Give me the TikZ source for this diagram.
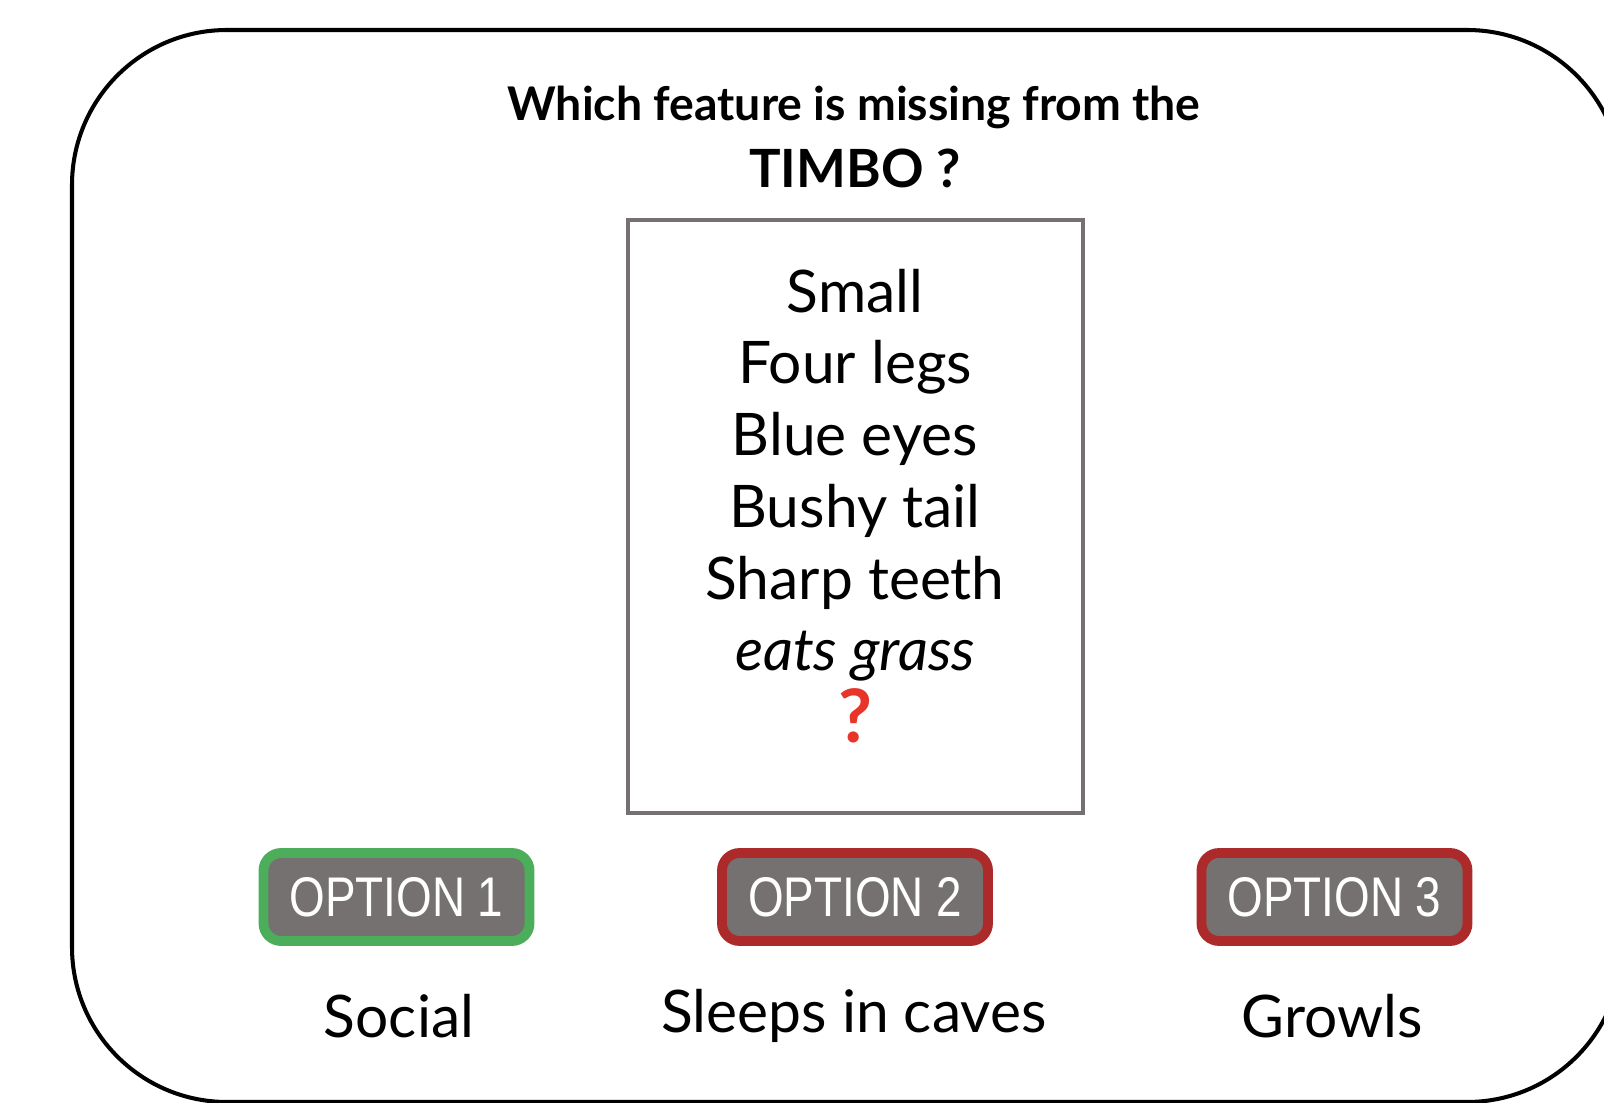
\documentclass[tikz,border=0pt]{standalone}
\usepackage{fontspec}
\setmainfont{Lato}
\newfontfamily\optfont[FakeStretch=0.82]{Liberation Sans}
\usepackage{xcolor}
\usetikzlibrary{positioning}

\definecolor{btngray}{HTML}{767171}
\definecolor{okgreen}{HTML}{4CAD5B}
\definecolor{badred}{HTML}{AD2A2A}
\definecolor{qred}{HTML}{E8352A}
\definecolor{cardgray}{HTML}{767171}

\begin{document}
\begin{tikzpicture}[
        frame/.style={draw=black, line width=1.15pt, rounded corners=1.55cm},
        card/.style={
            rectangle, draw=cardgray, line width=1.3pt,
            minimum width=4.55cm, minimum height=5.93cm
        },
        traits/.style={align=center, font=\fontsize{16.7}{20.4}\selectfont, inner sep=0pt},
        option/.style={
            rectangle, rounded corners=5pt, line width=2.8pt, fill=btngray,
            minimum width=2.66cm, minimum height=0.88cm,
            text=white, font=\optfont\fontsize{15.9}{18}\selectfont
        },
        answer/.style={font=\fontsize{16.7}{20}\selectfont, inner sep=0pt}
    ]
    \useasboundingbox (0,0) rectangle (16.04,-11.03);
    \clip (0,0) rectangle (16.04,-11.03);

    % Outer frame
    \draw[frame] (0.72,-0.30) rectangle (16.22,-11.02);

    % Question
    \node[font=\bfseries\fontsize{13.2}{16}\selectfont, inner sep=0pt] (question) at (8.54,-1.07) {Which feature is missing from the};
    \node[font=\bfseries\fontsize{15}{18}\selectfont, inner sep=0pt] (timbo) at (8.55,-1.68) {TIMBO ?};

    % Feature card
    \node[card] (card) at (8.555,-5.165) {};
    \node[traits] (list) at (8.55,-5.06) {Small\\Four legs\\Blue eyes\\Bushy tail\\Sharp teeth\\\textit{eats grass}\\{\color{qred}\bfseries\fontsize{21}{20.4}\selectfont ?}};

    % Options
    \node[option, draw=okgreen] (opt1) at (3.965,-8.97) {OPTION 1};
    \node[option, draw=badred] (opt2) at (8.55,-8.97) {OPTION 2};
    \node[option, draw=badred] (opt3) at (13.345,-8.97) {OPTION 3};

    % Answers
    \node[answer] (ans1) at (3.99,-10.16) {Social};
    \node[answer] (ans2) at (8.54,-10.16) {Sleeps in caves};
    \node[answer] (ans3) at (13.32,-10.16) {Growls};

\end{tikzpicture}
\end{document}
